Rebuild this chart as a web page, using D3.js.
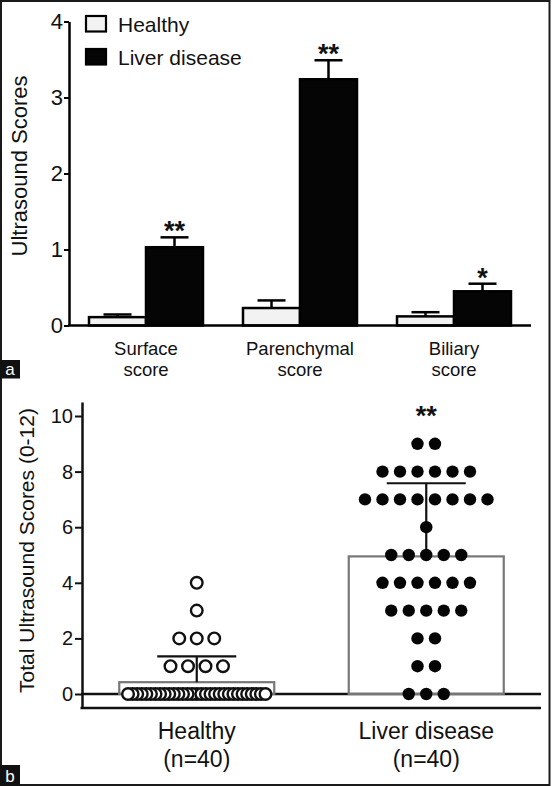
<!DOCTYPE html>
<html>
<head>
<meta charset="utf-8">
<script src="https://cdn.jsdelivr.net/npm/d3@7"></script>
<style>
  html, body { margin: 0; padding: 0; background: #fff; }
  svg { display: block; font-family: "Liberation Sans", Arial, sans-serif; }
</style>
</head>
<body>
<svg id="chart" width="552" height="786"></svg>
<script>
// ---------- Panel a data ----------
const categoriesA = ["Surface score", "Parenchymal score", "Biliary score"];
const seriesA = ["Healthy", "Liver disease"];
const healthyMean = [0.11, 0.23, 0.12];
const healthySem = [0.035, 0.10, 0.055];
const liverMean = [1.03, 3.24, 0.45];
const liverSem = [0.13, 0.25, 0.10];
const significanceA = ["**", "**", "*"];
const ticksA = [0, 1, 2, 3, 4];

// ---------- Panel b data ----------
const groupsB = ["Healthy", "Liver disease"];
const groupSubLabels = ["(n=40)", "(n=40)"];
const scoreLevels = [0, 1, 2, 3, 4, 5, 6, 7, 8, 9];
const healthyCounts = [31, 4, 3, 1, 1, 0, 0, 0, 0, 0];
const liverCounts = [3, 2, 2, 5, 6, 5, 1, 8, 6, 2];
const significanceB = ["", "**"];
const ticksB = [0, 2, 4, 6, 8, 10];

const svg = d3.select("#chart");
const FONT = '"Liberation Sans", Arial, sans-serif';

// ================= PANEL A =================
const yA = d3.scaleLinear().domain([0, 4]).range([325.5, 21.5]);
const xA = d3.scaleBand().domain(categoriesA).range([69, 531]).padding(0);
const xSub = d3.scaleBand().domain(seriesA).range([0, xA.bandwidth()]).paddingInner(0).paddingOuter(0.351);

const gA = svg.append("g");

const dataA = categoriesA.map((c, i) => ({
  cat: c,
  vals: [
    { s: "Healthy", m: healthyMean[i], e: healthySem[i] },
    { s: "Liver disease", m: liverMean[i], e: liverSem[i] }
  ],
  sig: significanceA[i]
}));

const grp = gA.selectAll("g.grp").data(dataA).enter().append("g")
  .attr("transform", d => `translate(${xA(d.cat)},0)`);

// error bars (upward only)
grp.selectAll("g.err").data(d => d.vals).enter().append("g").each(function(v) {
  const g = d3.select(this);
  const cx = xSub(v.s) + xSub.bandwidth() / 2;
  g.append("line").attr("x1", cx).attr("x2", cx)
    .attr("y1", yA(v.m)).attr("y2", yA(v.m + v.e))
    .attr("stroke", "#000").attr("stroke-width", 2.5);
  g.append("line").attr("x1", cx - 14).attr("x2", cx + 14)
    .attr("y1", yA(v.m + v.e)).attr("y2", yA(v.m + v.e))
    .attr("stroke", "#000").attr("stroke-width", 2.5);
});

grp.selectAll("rect").data(d => d.vals).enter().append("rect")
  .attr("x", v => xSub(v.s))
  .attr("width", xSub.bandwidth())
  .attr("y", v => yA(v.m))
  .attr("height", v => yA(0) - yA(v.m))
  .attr("fill", v => v.s === "Healthy" ? "#f2f2f2" : "#050505")
  .attr("stroke", "#000").attr("stroke-width", 2.5);

// significance stars
grp.append("text")
  .attr("x", d => xSub("Liver disease") + xSub.bandwidth() / 2)
  .attr("y", d => yA(d.vals[1].m + d.vals[1].e) + 3)
  .attr("text-anchor", "middle")
  .attr("font-size", 27).attr("font-weight", "bold").attr("fill", "#111")
  .text(d => d.sig);

// axes
const axA = d3.axisLeft(yA).tickValues(ticksA).tickFormat(d3.format("d")).tickSize(5).tickSizeOuter(0).tickPadding(1);
const axAg = gA.append("g").attr("transform", "translate(69,0)").call(axA);
axAg.select(".domain").attr("stroke", "#000").attr("stroke-width", 2.5);
axAg.selectAll(".tick line").attr("stroke", "#000").attr("stroke-width", 2);
axAg.selectAll(".tick text").attr("font-size", 22).attr("font-family", FONT).attr("fill", "#111");

gA.append("line").attr("x1", 68).attr("x2", xA.range()[1])
  .attr("y1", yA(0)).attr("y2", yA(0)).attr("stroke", "#000").attr("stroke-width", 2.5);

// category labels (two lines)
gA.selectAll("text.cat").data(categoriesA).enter().append("text")
  .attr("class", "cat")
  .attr("x", d => xA(d) + xA.bandwidth() / 2)
  .attr("y", 355)
  .attr("text-anchor", "middle").attr("font-size", 18.5).attr("fill", "#111")
  .each(function(d) {
    const parts = d.split(" ");
    const t = d3.select(this);
    t.append("tspan").attr("x", xA(d) + xA.bandwidth() / 2).attr("dy", 0).text(parts[0]);
    t.append("tspan").attr("x", xA(d) + xA.bandwidth() / 2).attr("dy", 20.5).text(parts[1]);
  });

// y label
gA.append("text")
  .attr("transform", `translate(27,166) rotate(-90)`)
  .attr("text-anchor", "middle").attr("font-size", 22).attr("fill", "#111")
  .text("Ultrasound Scores");

// legend
const legA = gA.append("g");
seriesA.forEach((s, i) => {
  legA.append("rect").attr("x", 86).attr("y", 16 + i * 33).attr("width", 20).attr("height", 15.5)
    .attr("fill", i === 0 ? "#f2f2f2" : "#050505").attr("stroke", "#000").attr("stroke-width", 2.2);
  legA.append("text").attr("x", 118).attr("y", 32 + i * 32.5)
    .attr("font-size", 21).attr("fill", "#111").text(s);
});

// ================= PANEL B =================
const yB = d3.scaleLinear().domain([-0.5, 10.5]).range([707.9, 402.1]);
const xB = d3.scaleBand().domain(groupsB).range([82, 541]).padding(0);
const barW = 155;
const gB = svg.append("g");

const countsB = [healthyCounts, liverCounts];
const rawB = countsB.map(cnts => {
  const arr = [];
  scoreLevels.forEach((lv, i) => { for (let k = 0; k < cnts[i]; k++) arr.push(lv); });
  return arr;
});

// zero line and bottom axis line
gB.append("line").attr("x1", 81).attr("x2", 541).attr("y1", yB(0)).attr("y2", yB(0))
  .attr("stroke", "#111").attr("stroke-width", 2.5);
gB.append("line").attr("x1", 80.5).attr("x2", 541).attr("y1", yB(-0.5)).attr("y2", yB(-0.5))
  .attr("stroke", "#111").attr("stroke-width", 2.5);

const axB = d3.axisLeft(yB).tickValues(ticksB).tickFormat(d3.format("d")).tickSize(7).tickSizeOuter(0).tickPadding(2);
const axBg = gB.append("g").attr("transform", "translate(82,0)").call(axB);
axBg.select(".domain").attr("stroke", "#111").attr("stroke-width", 2.5);
axBg.selectAll(".tick line").attr("stroke", "#111").attr("stroke-width", 2);
axBg.selectAll(".tick text").attr("font-size", 20).attr("font-family", FONT).attr("fill", "#111");

groupsB.forEach((gname, gi) => {
  const vals = rawB[gi];
  const m = d3.mean(vals);
  const sd = d3.deviation(vals);
  const cx = xB(gname) + xB.bandwidth() / 2;
  // bar (outline only)
  gB.append("rect").attr("x", cx - barW / 2).attr("width", barW)
    .attr("y", yB(m)).attr("height", yB(0) - yB(m))
    .attr("fill", "none").attr("stroke", "#777").attr("stroke-width", 2.2);
  // SD bar
  gB.append("line").attr("x1", cx).attr("x2", cx).attr("y1", yB(m)).attr("y2", yB(m + sd))
    .attr("stroke", "#111").attr("stroke-width", 2.2);
  gB.append("line").attr("x1", cx - 39.5).attr("x2", cx + 39.5).attr("y1", yB(m + sd)).attr("y2", yB(m + sd))
    .attr("stroke", "#111").attr("stroke-width", 2.2);

  // dots
  const pts = [];
  scoreLevels.forEach((lv, i) => {
    const n = countsB[gi][i];
    if (!n) return;
    const spacing = n > 1 ? Math.min(17.5, 137.4 / (n - 1)) : 0;
    for (let k = 0; k < n; k++) {
      const off = (k - (n - 1) / 2) * spacing;
      pts.push({ v: lv, x: cx + off, d: Math.abs(off) });
    }
  });
  const filled = gi === 1;
  pts.sort((a, b) => a.d - b.d);
  gB.selectAll(null).data(pts).enter().append("circle")
    .attr("cx", p => p.x).attr("cy", p => yB(p.v))
    .attr("r", filled ? 6.2 : 5.8)
    .attr("fill", filled ? "#050505" : "#fff")
    .attr("stroke", filled ? "none" : "#111")
    .attr("stroke-width", 2.4);

  if (significanceB[gi]) {
    gB.append("text").attr("x", cx).attr("y", 425)
      .attr("text-anchor", "middle").attr("font-size", 27).attr("font-weight", "bold")
      .attr("fill", "#111").text(significanceB[gi]);
  }
  gB.append("text").attr("x", cx).attr("y", 739).attr("text-anchor", "middle")
    .attr("font-size", 23).attr("fill", "#111").text(gname);
  gB.append("text").attr("x", cx).attr("y", 766.5).attr("text-anchor", "middle")
    .attr("font-size", 23).attr("fill", "#111").text(groupSubLabels[gi]);
});

gB.append("text")
  .attr("transform", `translate(34,550.5) rotate(-90)`)
  .attr("text-anchor", "middle").attr("font-size", 21).attr("fill", "#111")
  .text("Total Ultrasound Scores (0-12)");

// ================= Frame and panel tags =================
svg.append("rect").attr("x", 1).attr("y", 1).attr("width", 548.5).attr("height", 784)
  .attr("fill", "none").attr("stroke", "#1a1a1a").attr("stroke-width", 2);

[["a", 360, 18.5], ["b", 765, 21]].forEach(([lab, y, h]) => {
  svg.append("rect").attr("x", 0).attr("y", y).attr("width", 20).attr("height", h).attr("fill", "#111");
  svg.append("text").attr("x", 10).attr("y", y + h - 4).attr("text-anchor", "middle")
    .attr("font-size", 17).attr("fill", "#fff").text(lab);
});
</script>
</body>
</html>
